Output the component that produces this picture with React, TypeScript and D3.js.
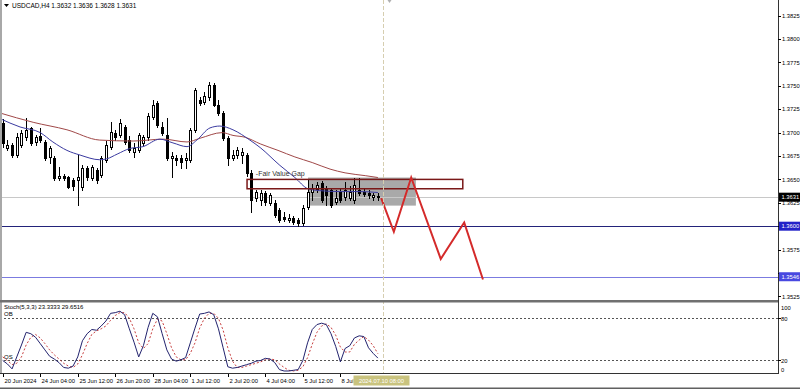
import React from 'react';
import * as d3 from 'd3';

const W = 800;
const H = 389;

// ---- OHLC data (USDCAD H4), bar index 0..80 ----
const opens = [1.3710,1.3684,1.3687,1.3676,1.3687,1.3695,1.3705,1.3690,1.3696,1.3690,
1.3674,1.3673,1.3652,1.3654,1.3653,1.3649,1.3649,1.3642,1.3662,1.3652,
1.3660,1.3655,1.3671,1.3685,1.3700,1.3697,1.3706,1.3692,1.3679,1.3681,
1.3689,1.3695,1.3717,1.3732,1.3706,1.3697,1.3673,1.3673,1.3673,1.3671,
1.3671,1.3703,1.3735,1.3733,1.3738,1.3751,1.3730,1.3721,1.3694,1.3673,
1.3676,1.3676,1.3676,1.3657,1.3630,1.3628,1.3635,1.3625,1.3625,1.3617,
1.3610,1.3607,1.3609,1.3607,1.3603,1.3621,1.3637,1.3640,1.3646,1.3641,
1.3639,1.3626,1.3637,1.3631,1.3630,1.3628,1.3639,1.3637,1.3635,1.3631,1.3632];
const highs = [1.3714,1.3692,1.3689,1.3700,1.3703,1.3716,1.3706,1.3697,1.3705,1.3692,
1.3686,1.3675,1.3663,1.3656,1.3654,1.3652,1.3676,1.3665,1.3664,1.3665,
1.3662,1.3675,1.3691,1.3711,1.3703,1.3714,1.3708,1.3696,1.3689,1.3700,
1.3697,1.3721,1.3735,1.3734,1.3711,1.3716,1.3679,1.3676,1.3676,1.3678,
1.3705,1.3748,1.3738,1.3743,1.3754,1.3753,1.3735,1.3723,1.3696,1.3681,
1.3685,1.3684,1.3678,1.3660,1.3639,1.3639,1.3638,1.3635,1.3628,1.3619,
1.3615,1.3613,1.3611,1.3609,1.3623,1.3649,1.3645,1.3647,1.3648,1.3643,
1.3641,1.3639,1.3641,1.3647,1.3643,1.3652,1.3652,1.3641,1.3639,1.3636,1.3636];
const lows = [1.3685,1.3681,1.3674,1.3674,1.3685,1.3692,1.3687,1.3687,1.3690,1.3671,
1.3668,1.3649,1.3649,1.3649,1.3641,1.3639,1.3623,1.3639,1.3649,1.3649,
1.3646,1.3653,1.3669,1.3682,1.3692,1.3695,1.3688,1.3679,1.3674,1.3679,
1.3687,1.3692,1.3715,1.3706,1.3697,1.3671,1.3653,1.3665,1.3662,1.3662,
1.3669,1.3701,1.3730,1.3731,1.3735,1.3728,1.3719,1.3692,1.3665,1.3671,
1.3673,1.3668,1.3654,1.3615,1.3627,1.3623,1.3623,1.3623,1.3610,1.3605,
1.3606,1.3605,1.3602,1.3600,1.3601,1.3618,1.3628,1.3637,1.3626,1.3623,
1.3621,1.3624,1.3626,1.3628,1.3628,1.3625,1.3633,1.3632,1.3630,1.3628,1.3628];
const closes = [1.3689,1.3687,1.3676,1.3695,1.3700,1.3703,1.3689,1.3695,1.3692,1.3673,
1.3684,1.3652,1.3654,1.3652,1.3642,1.3643,1.3653,1.3662,1.3653,1.3663,
1.3649,1.3673,1.3687,1.3701,1.3695,1.3710,1.3690,1.3681,1.3684,1.3697,
1.3695,1.3718,1.3730,1.3708,1.3700,1.3673,1.3675,1.3671,1.3669,1.3673,
1.3703,1.3746,1.3732,1.3739,1.3751,1.3730,1.3721,1.3694,1.3673,1.3676,
1.3681,1.3679,1.3657,1.3628,1.3637,1.3635,1.3626,1.3633,1.3612,1.3607,
1.3608,1.3609,1.3605,1.3603,1.3619,1.3637,1.3641,1.3644,1.3628,1.3633,
1.3623,1.3630,1.3628,1.3639,1.3637,1.3644,1.3636,1.3634,1.3633,1.3633,1.3631];

// ---- moving averages (sampled: bar index, price) ----
const maSlowBars = [-0.6,6.5,13.7,20.7,27.8,34.2,39.3,42.1,46.8,49.1,51.7,54.9,58.7,62.3,66,69.8,73,77.3,80];
const maSlowVals = [1.3721,1.3711,1.3703,1.3692,1.3691,1.3693,1.3690,1.3694,1.3700,1.3697,1.3695,1.3688,1.3681,1.3674,1.3668,1.3661,1.3657,1.3654,1.3652];
const maFastBars = [-0.6,3.7,8,10.7,13.7,16.5,20.7,22.2,24.4,27.1,29.9,33.5,36.3,39.3,41.4,44.2,46.3,49.1,52.7,54.9,59.1,62.3,65.1,67.6,71.9,76.2,80];
const maFastVals = [1.3715,1.3706,1.3700,1.3690,1.3681,1.3676,1.3671,1.3672,1.3677,1.3683,1.3685,1.3693,1.3689,1.3685,1.3692,1.3705,1.3707,1.3703,1.3692,1.3684,1.3665,1.3652,1.3640,1.3638,1.3637,1.3637,1.3636];

// ---- stochastic (5,3,3) ----
const stochMain = [20,15,8,25,42,60,58,53,44,35,26,22,17,10,9,12,25,48,58,64,
63,69,76,87,88,90,85,65,46,25,41,67,87,82,58,35,22,19,21,24,
45,66,86,87,89,85,65,38,11,9,10,12,14,16,19,20,23,22,17,7,
5,5,6,7,20,45,64,71,73,71,58,40,18,37,41,52,55,54,38,30,23.3333];
const stochSignal = [25,20,14,16,25,42,53,57,52,44,35,28,22,16,12,10,15,28,44,57,
62,65,69,77,84,88,88,80,65,45,37,44,65,79,76,58,38,25,21,21,
30,45,66,80,87,87,80,63,38,19,10,10,12,14,16,18,21,22,21,15,
10,6,5,6,11,24,43,60,69,72,67,56,39,32,32,43,49,54,49,41,29.6516];

// ---- drawn objects ----
const zigBars = [80.7,83.4,87.1,93.4,98.4,102.4];
const zigVals = [1.3630,1.3594,1.3652,1.3565,1.3604,1.3543];
const fvgBars = [52.1,98.1];
const fvgVals = [1.3650,1.3640];
const boxBars = [65.1,88.1];
const boxVals = [1.3652,1.3622];
const levelVals = [1.3600,1.3546];
const currentPrice = 1.3631;
const priceTicks = [1.3525,1.3550,1.3575,1.3600,1.3625,1.3650,1.3675,1.3700,1.3725,1.3750,1.3775,1.3800,1.3825];
const timeTickBars = [0,8,16,24,32,40,48,56,64,72];
const timeTickLabels = ['20 Jun 2024','24 Jun 04:00','25 Jun 12:00','26 Jun 20:00','28 Jun 04:00','1 Jul 12:00','2 Jul 20:00','4 Jul 04:00','5 Jul 12:00','8 Jul 20:00'];
const markerBar = 81;
const markerLabel = '2024.07.10 08:00';

const FONT = '"Liberation Sans", Arial, sans-serif';
const AXIS_X = 778;

export default function App() {
  const x = d3.scaleLinear().domain([0, 80]).range([2.7, 377.9]);
  const y = d3.scaleLinear().domain([1.3525, 1.3825]).range([296.4, 15.6]);
  const ys = d3.scaleLinear().domain([0, 100]).range([374.5, 304.2]);

  const slowLine = d3.line<number>().x((_, i) => x(maSlowBars[i])).y(v => y(v)).curve(d3.curveMonotoneX)(maSlowVals) || '';
  const fastLine = d3.line<number>().x((_, i) => x(maFastBars[i])).y(v => y(v)).curve(d3.curveMonotoneX)(maFastVals) || '';
  const stMain = d3.line<number>().x((_, i) => x(i)).y(v => ys(v))(stochMain) || '';
  const stSig = d3.line<number>().x((_, i) => x(i)).y(v => ys(v))(stochSignal) || '';
  const zig = d3.line<number>().x((_, i) => x(zigBars[i])).y(v => y(v))(zigVals) || '';

  const candles = opens.map((o, i) => {
    const c = closes[i];
    const cx = Math.round(x(i));
    const yo = Math.round(y(o));
    const yc = Math.round(y(c));
    const top = Math.min(yo, yc);
    const bot = Math.max(yo, yc);
    const bull = c >= o;
    return (
      <g key={i}>
        <line x1={cx + 0.5} x2={cx + 0.5} y1={Math.round(y(highs[i]))} y2={Math.round(y(lows[i])) + 1} stroke="#000" strokeWidth={1} />
        {bull ? (
          <rect x={cx - 0.5} y={top + 0.5} width={2} height={Math.max(bot - top, 1)} fill="#fff" stroke="#000" strokeWidth={1} />
        ) : (
          <rect x={cx - 1} y={top} width={3} height={Math.max(bot - top, 1) + 1} fill="#000" />
        )}
      </g>
    );
  });

  const markerX = Math.round(x(markerBar)) + 0.5;
  const markerBoxX = markerX - 30;
  const boxedPrices = [currentPrice, levelVals[0], levelVals[1]];
  const visibleTicks = priceTicks.filter(p => boxedPrices.every(b => Math.abs(y(p) - y(b)) > 5));

  return (
    <svg width={W} height={H} style={{ position: 'absolute', left: 0, top: 0, background: '#fff' }} fontFamily={FONT}>
      <rect x={0} y={0} width={W} height={H} fill="#fff" />
      <defs>
        <clipPath id="mainclip"><rect x={2} y={0} width={AXIS_X - 2} height={300} /></clipPath>
        <clipPath id="stclip"><rect x={2} y={303} width={AXIS_X - 2} height={70} /></clipPath>
        <clipPath id="timeclip"><rect x={0} y={374} width={markerBoxX} height={15} /></clipPath>
      </defs>

      {/* left frame */}
      <rect x={0} y={0} width={2} height={373} fill="#a8a8a8" />

      <g clipPath="url(#mainclip)">
        {/* grey zone */}
        <rect x={x(boxBars[0])} y={y(boxVals[0])} width={x(boxBars[1]) - x(boxBars[0])} height={y(boxVals[1]) - y(boxVals[0])} fill="#a9a9a9" />
        {/* current price line */}
        <line x1={0} x2={AXIS_X} y1={Math.round(y(currentPrice)) + 0.5} y2={Math.round(y(currentPrice)) + 0.5} stroke="#c8c8c8" />
        {/* levels */}
        <line x1={0} x2={AXIS_X} y1={Math.round(y(levelVals[0])) + 0.5} y2={Math.round(y(levelVals[0])) + 0.5} stroke="#23237a" />
        <line x1={0} x2={AXIS_X} y1={Math.round(y(levelVals[1])) + 0.5} y2={Math.round(y(levelVals[1])) + 0.5} stroke="#7b7be0" />
        {candles}
        <path d={slowLine} fill="none" stroke="#a04848" strokeWidth={1} />
        <path d={fastLine} fill="none" stroke="#3a3aa0" strokeWidth={1} />
        {/* FVG box */}
        <rect x={x(fvgBars[0])} y={y(fvgVals[0])} width={x(fvgBars[1]) - x(fvgBars[0])} height={y(fvgVals[1]) - y(fvgVals[0])} fill="none" stroke="#7a1818" strokeWidth={1.5} />
        <text x={x(54.4) - 2} y={176} fontSize={7} fill="#333">-Fair Value Gap</text>
        {/* projection zigzag */}
        <path d={zig} fill="none" stroke="#d42a2a" strokeWidth={2} strokeLinejoin="miter" />
      </g>

      {/* vertical marker line */}
      <line x1={markerX} x2={markerX} y1={0} y2={373} stroke="#d6ceb0" strokeDasharray="4,2" />
      <path d={`M${markerX + 4},0 L${markerX + 8},0 L${markerX + 6},3 Z`} fill="#b0b0b0" />

      {/* header */}
      <path d="M4,4 L9,4 L6.5,7 Z" fill="#000" />
      <text x={12} y={8} fontSize={6.5} fill="#000">USDCAD,H4  1.3632 1.3636 1.3628 1.3631</text>

      {/* separator */}
      <rect x={0} y={300} width={AXIS_X + 1} height={2.5} fill="#707070" />

      {/* stochastic panel */}
      <g clipPath="url(#stclip)">
        <line x1={0} x2={AXIS_X} y1={Math.round(ys(80)) + 0.5} y2={Math.round(ys(80)) + 0.5} stroke="#555" strokeDasharray="2,2" />
        <line x1={0} x2={AXIS_X} y1={Math.round(ys(20)) + 0.5} y2={Math.round(ys(20)) + 0.5} stroke="#555" strokeDasharray="2,2" />
        <path d={stSig} fill="none" stroke="#c84040" strokeWidth={1} strokeDasharray="2,2" />
        <path d={stMain} fill="none" stroke="#23236e" strokeWidth={1} />
      </g>
      <text x={4} y={309} fontSize={6} fill="#000">Stoch(5,3,3) 23.3333 29.6516</text>
      <text x={4} y={316} fontSize={6} fill="#000">OB</text>
      <text x={4} y={359} fontSize={6} fill="#000">OS</text>

      {/* axes frame */}
      <line x1={AXIS_X + 0.5} x2={AXIS_X + 0.5} y1={0} y2={374} stroke="#333" />
      <line x1={0} x2={AXIS_X + 1} y1={373.5} y2={373.5} stroke="#333" />

      {/* price axis */}
      {priceTicks.map(p => (
        <line key={'t' + p} x1={AXIS_X} x2={AXIS_X + 3} y1={Math.round(y(p)) + 0.5} y2={Math.round(y(p)) + 0.5} stroke="#000" />
      ))}
      {visibleTicks.map(p => (
        <text key={p} x={782} y={y(p) + 2.1} fontSize={5.8} fill="#000">{p.toFixed(4)}</text>
      ))}
      {/* price boxes */}
      <rect x={AXIS_X + 1} y={y(currentPrice) - 4.5} width={21} height={9} fill="#000" />
      <text x={781.5} y={y(currentPrice) + 2.1} fontSize={5.8} fill="#fff">{currentPrice.toFixed(4)}</text>
      <rect x={AXIS_X + 1} y={y(levelVals[0]) - 4.5} width={21} height={9} fill="#2323c8" />
      <text x={781.5} y={y(levelVals[0]) + 2.1} fontSize={5.8} fill="#fff">{levelVals[0].toFixed(4)}</text>
      <rect x={AXIS_X + 1} y={y(levelVals[1]) - 4.5} width={21} height={9} fill="#4848e0" />
      <text x={781.5} y={y(levelVals[1]) + 2.1} fontSize={5.8} fill="#fff">{levelVals[1].toFixed(4)}</text>

      {/* stoch axis */}
      {[[100, 307.5], [80, 318.5], [20, 360.5], [0, 369.5]].map(([v, yy]) => (
        <g key={v}>
          {(v === 80 || v === 20) && <line x1={AXIS_X} x2={AXIS_X + 3} y1={Math.round(ys(v)) + 0.5} y2={Math.round(ys(v)) + 0.5} stroke="#000" />}
          <text x={781} y={yy + 2.1} fontSize={5.8} fill="#000">{v}</text>
        </g>
      ))}

      {/* time axis */}
      <g clipPath="url(#timeclip)">
        {timeTickBars.map((b, i) => (
          <g key={b}>
            <line x1={Math.round(x(b)) + 0.5} x2={Math.round(x(b)) + 0.5} y1={373} y2={377} stroke="#000" />
            <text x={Math.round(x(b)) + 1.5} y={383} fontSize={5.8} fill="#000">{timeTickLabels[i]}</text>
          </g>
        ))}
      </g>
      <rect x={markerBoxX} y={375.5} width={56} height={10} fill="#c9c37e" />
      <text x={markerX - 2} y={383} fontSize={5.8} fill="#fff" textAnchor="middle">{markerLabel}</text>

      {/* bottom bar */}
      <rect x={0} y={387.5} width={W} height={1.5} fill="#606060" />
    </svg>
  );
}
